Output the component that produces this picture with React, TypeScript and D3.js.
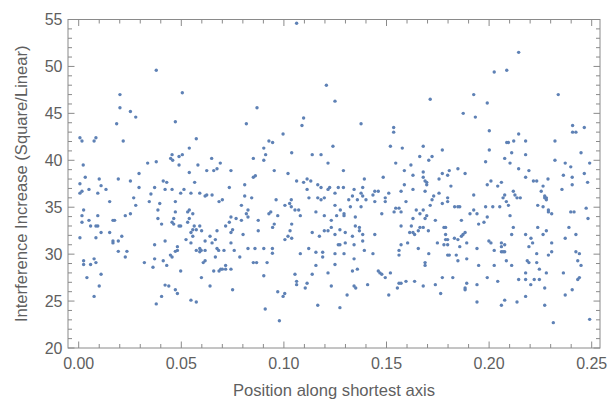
import React from "react";
import * as d3 from "d3";

// Data: [position along shortest axis, interference increase]
const points: [number, number][] = [
  [0.0378,49.6],[0.0201,47.0],[0.0201,45.6],[0.0252,45.2],[0.0278,44.6],[0.0185,43.9],[0.0471,44.1],[0.0006,42.4],[0.0016,42.05],[0.0084,42.4],[0.0075,42.05],[0.0217,42.05],[0.0455,40.6],[0.0489,40.4],[0.0448,40.2],[0.0458,40.0],[0.0336,39.7],[0.0378,39.85],[0.0022,39.5],[0.0489,39.5],[0.0294,38.6],[0.0032,38.2],[0.0100,38.0],[0.0193,38.0],
  [0.0252,37.8],[0.0412,37.8],[0.0429,37.65],[0.0006,37.5],[0.0109,37.3],[0.0294,37.1],[0.0370,37.1],[0.0016,36.7],[0.0006,36.5],[0.0050,36.9],[0.0093,36.5],[0.0133,36.9],[0.0421,36.9],[0.0455,36.9],[0.0352,36.4],[0.0268,36.0],[0.0151,35.6],[0.0344,35.6],[0.0471,35.6],[0.0395,35.4],[0.0278,35.2],[0.0024,34.7],[0.0386,34.7],[0.0471,34.5],[0.0252,34.3],[0.0016,34.1],[0.0093,34.1],[0.0227,34.1],[0.0386,33.8],[0.0463,33.8],[0.0050,33.6],[0.0167,33.6],[0.0175,33.6],[0.0016,33.4],[0.0455,33.4],[0.0463,33.2],[0.0404,33.2],[0.0489,33.0],[0.0058,33.0],[0.0084,33.0],[0.0093,33.0],[0.0109,32.3],[0.0151,32.3],[0.0210,31.9],[0.0006,31.75],[0.0084,31.75],[0.0167,31.4],[0.0167,31.2],[0.0193,31.4],[0.0370,31.0],[0.0421,31.4],[0.0481,30.8],[0.0481,30.4],[0.0471,30.3],[0.0193,30.3],[0.0235,30.3],[0.0447,29.9],[0.0455,29.7],[0.0227,29.7],[0.0075,29.5],[0.0370,29.5],[0.0024,29.3],[0.0412,29.3],[0.0320,29.1],[0.0084,29.1],[0.0024,28.9],[0.0058,28.9],[0.0429,28.8],[0.0362,28.6],[0.0109,27.85],[0.0040,27.5],[0.0421,26.7],[0.0439,26.6],[0.0100,26.6],[0.0471,26.2],[0.0481,25.8],[0.0404,25.5],[0.0075,25.5],[0.0378,24.7],
  [0.0505,47.2],[0.0869,45.6],[0.0817,43.9],[0.0996,42.8],[0.0573,42.3],[0.0539,41.3],[0.0902,41.3],[0.0927,42.05],[0.0945,41.9],[0.0505,40.6],[0.0911,40.6],[0.0648,40.2],[0.0851,40.2],[0.0902,40.0],[0.0581,39.5],[0.0690,39.7],[0.0674,39.1],[0.0658,38.9],[0.0624,38.9],[0.0742,38.9],[0.0953,38.9],[0.0539,38.7],[0.0861,38.35],[0.0851,38.2],
  [0.0565,37.65],[0.0809,37.4],[0.0513,36.9],[0.0497,36.5],[0.0547,36.5],[0.0590,36.5],[0.0734,37.1],[0.0624,36.3],[0.0616,36.2],[0.0650,36.3],[0.0809,36.2],[0.0843,36.0],[0.0700,35.8],[0.0684,35.6],[0.0962,35.8],[0.0793,35.2],[0.1005,35.2],[0.0825,34.7],[0.0539,34.7],[0.0531,34.5],[0.0556,34.3],[0.0817,34.3],[0.0936,34.5],[0.0927,34.3],[0.0970,34.1],[0.0742,33.95],[0.0767,33.8],[0.0825,33.95],[0.0539,33.8],[0.0875,33.6],[0.0793,33.6],[0.0734,33.4],[0.0531,33.4],[0.0953,33.2],[0.0497,33.0],[0.0563,33.0],[0.0590,33.0],[0.0716,33.0],[0.0945,32.85],[0.0556,32.6],[0.0573,32.6],[0.0750,32.6],[0.0599,32.5],[0.0674,32.5],[0.0875,32.5],[0.0547,32.3],[0.0742,32.3],[0.0556,31.9],[0.0640,31.9],[0.0801,32.1],[0.0523,31.55],[0.0666,31.55],[0.0616,31.4],[0.1005,31.55],[0.0547,31.2],[0.0650,31.2],[0.0742,31.2],[0.0590,30.6],[0.0674,30.6],[0.0682,30.4],[0.0825,30.6],[0.0859,30.6],[0.0902,30.6],[0.0944,30.6],[0.0573,30.4],[0.0590,30.25],[0.0597,30.4],[0.0616,30.4],[0.0708,30.4],[0.0758,30.4],[0.0944,30.1],[0.0666,29.7],[0.0785,29.7],[0.0616,29.3],[0.0607,29.1],[0.0851,29.1],[0.0867,29.1],[0.0918,29.1],[0.0716,28.8],[0.0692,28.4],[0.0700,28.4],[0.0716,28.4],[0.0742,28.4],[0.0658,28.2],[0.0684,28.2],[0.0497,28.2],[0.0902,27.7],[0.0598,27.5],[0.0640,26.6],[0.0750,26.2],[0.0970,26.0],[0.1004,25.8],[0.0996,25.5],[0.0547,25.1],[0.0573,24.9],[0.0909,24.15],[0.0978,22.9],
  [0.1062,54.6],[0.1207,48.0],[0.1249,46.3],[0.1096,44.5],[0.1088,43.7],[0.1376,43.9],[0.1535,43.5],[0.1535,43.0],[0.1239,41.5],[0.1519,41.5],[0.1038,40.8],[0.1138,40.6],[0.1181,40.6],[0.1215,39.7],[0.1290,38.9],[0.1020,38.6],[0.1484,38.2],[0.1113,38.0],[0.1392,38.0],
  [0.1062,37.8],[0.1096,37.65],[0.1131,37.8],[0.1165,37.4],[0.1181,37.1],[0.1215,36.9],[0.1223,37.1],[0.1265,37.1],[0.1290,37.1],[0.1384,37.1],[0.1113,36.9],[0.1342,36.9],[0.1443,36.7],[0.1460,36.7],[0.1249,36.5],[0.1376,36.5],[0.1511,36.5],[0.1434,36.3],[0.1334,36.2],[0.1384,36.2],[0.1122,36.0],[0.1165,36.0],[0.1181,35.8],[0.1197,36.0],[0.1316,35.8],[0.1358,35.8],[0.1400,35.8],[0.1494,36.0],[0.1036,35.8],[0.1443,35.6],[0.1494,35.6],[0.1028,35.4],[0.1249,35.2],[0.1324,35.05],[0.1376,35.05],[0.1036,35.05],[0.1054,34.7],[0.1072,34.7],[0.1156,34.5],[0.1275,34.7],[0.1293,34.3],[0.1293,34.1],[0.1477,34.3],[0.1080,34.1],[0.1197,34.1],[0.1257,34.1],[0.1348,33.95],[0.1231,33.6],[0.1038,33.2],[0.1348,33.0],[0.1368,32.85],[0.1231,32.85],[0.1197,32.5],[0.1215,32.5],[0.1368,32.5],[0.1273,32.6],[0.1030,32.5],[0.1138,32.3],[0.1299,32.3],[0.1384,32.1],[0.1443,32.1],[0.1249,32.1],[0.1020,31.9],[0.1173,31.9],[0.1334,31.9],[0.1038,31.7],[0.1384,31.4],[0.1299,31.2],[0.1265,31.0],[0.1273,31.0],[0.1342,31.0],[0.1121,30.6],[0.1392,30.4],[0.1156,30.2],[0.1189,30.2],[0.1080,30.05],[0.1249,30.05],[0.1293,30.05],[0.1434,30.05],[0.1189,29.7],[0.1342,29.5],[0.1249,28.9],[0.1156,28.8],[0.1358,28.4],[0.1334,28.2],[0.1460,28.2],[0.1468,28.0],[0.1477,27.85],[0.1519,28.0],[0.1215,28.0],[0.1054,27.85],[0.1138,27.85],[0.1494,27.5],[0.1062,27.1],[0.1062,26.75],[0.1113,26.9],[0.1408,26.75],[0.1231,26.6],[0.1342,26.6],[0.1350,26.4],[0.1104,26.4],[0.1308,25.65],[0.1511,25.65],[0.1165,24.55],[0.1273,24.3],
  [0.2025,49.4],[0.1925,47.0],[0.1713,46.5],[0.1991,46.1],[0.1874,45.0],[0.1933,44.6],[0.2001,43.15],[0.1577,41.3],[0.1679,41.5],[0.1772,41.1],[0.2001,41.1],[0.1662,40.4],[0.1722,40.4],[0.1706,40.0],[0.1983,39.85],[0.1545,39.7],[0.1619,39.5],[0.1848,39.1],[0.1587,38.9],[0.1806,38.9],[0.1679,38.75],[0.1772,38.6],[0.1883,38.6],[0.1629,38.4],[0.1798,38.4],[0.1679,38.2],[0.1756,38.0],
  [0.1688,37.8],[0.1696,37.65],[0.1696,37.4],[0.2009,37.8],[0.1991,37.4],[0.2042,37.25],[0.1587,37.4],[0.1814,37.25],[0.1571,36.7],[0.1629,36.9],[0.1688,36.7],[0.1756,36.5],[0.1925,36.3],[0.1730,36.2],[0.1722,35.8],[0.1798,36.0],[0.1798,35.6],[0.1595,35.6],[0.1772,35.4],[0.1713,35.2],[0.1832,35.05],[0.1848,35.05],[0.1857,35.05],[0.1983,35.05],[0.2018,35.05],[0.2052,35.05],[0.1545,34.9],[0.1561,34.9],[0.1537,34.5],[0.1571,34.5],[0.1645,34.7],[0.1679,34.7],[0.1925,34.7],[0.1663,34.3],[0.1696,34.1],[0.1907,34.3],[0.1941,34.3],[0.1629,33.8],[0.1688,33.8],[0.1738,33.6],[0.1865,33.6],[0.1991,33.95],[0.1975,33.4],[0.1949,33.2],[0.1571,33.0],[0.1621,33.0],[0.1663,32.85],[0.1679,32.85],[0.1780,32.85],[0.1788,32.85],[0.1704,32.5],[0.1655,32.5],[0.1613,32.3],[0.1629,32.3],[0.1637,32.1],[0.1883,32.3],[0.1873,32.1],[0.1865,31.9],[0.1788,32.1],[0.1831,31.7],[0.1788,31.55],[0.1798,31.55],[0.1848,31.55],[0.1999,31.4],[0.2009,31.2],[0.1603,31.2],[0.1748,31.2],[0.1891,31.2],[0.1571,31.0],[0.1780,31.0],[0.1798,31.0],[0.1857,30.8],[0.1655,30.6],[0.1941,30.6],[0.1561,30.4],[0.1561,29.9],[0.2025,30.4],[0.1706,30.05],[0.1798,29.9],[0.1806,29.9],[0.1840,29.9],[0.1891,29.5],[0.1848,29.3],[0.1688,29.1],[0.1688,28.8],[0.1949,28.8],[0.2025,28.8],[0.1772,27.5],[0.1823,27.5],[0.1991,27.5],[0.2042,27.1],[0.1595,27.1],[0.1637,27.1],[0.1561,26.9],[0.1571,26.9],[0.1891,26.9],[0.1941,26.75],[0.1738,26.75],[0.1679,26.6],[0.1883,26.4],[0.1883,26.2],[0.1553,26.4],[0.1764,25.8],[0.1941,24.9],
  [0.2144,51.5],[0.2086,49.6],[0.2337,47.0],[0.2407,43.7],[0.2464,43.5],[0.2407,43.0],[0.2423,43.0],[0.2144,42.8],[0.2086,41.9],[0.2094,41.9],[0.2120,42.05],[0.2178,42.05],[0.2321,42.05],[0.2110,40.8],[0.2178,40.6],[0.2448,40.8],[0.2076,40.2],[0.2321,40.0],[0.2102,39.7],[0.2371,39.7],[0.2490,39.7],[0.2398,39.3],[0.2144,39.1],[0.2194,38.9],[0.2464,38.6],[0.2362,38.4],[0.2178,38.2],[0.2405,38.2],[0.2287,38.0],
  [0.2216,37.8],[0.2232,37.8],[0.2060,37.65],[0.2405,37.4],[0.2480,37.65],[0.2263,37.25],[0.2355,36.9],[0.2118,36.7],[0.2254,36.7],[0.2076,36.3],[0.2126,36.3],[0.2271,36.2],[0.2279,36.0],[0.2271,36.0],[0.2068,36.0],[0.2136,36.0],[0.2152,36.0],[0.2279,35.8],[0.2084,35.6],[0.2094,35.2],[0.2237,35.2],[0.2263,35.05],[0.2473,34.9],[0.2289,34.7],[0.2289,34.5],[0.2305,34.3],[0.2398,34.5],[0.2414,34.5],[0.2102,34.1],[0.2482,33.8],[0.2118,32.85],[0.2237,32.85],[0.2389,32.85],[0.2279,32.5],[0.2110,32.1],[0.2178,32.1],[0.2263,32.1],[0.2423,32.1],[0.2204,31.7],[0.2371,31.7],[0.2060,31.2],[0.2076,31.0],[0.2060,30.8],[0.2212,31.2],[0.2305,31.2],[0.2194,30.8],[0.2060,30.25],[0.2068,30.25],[0.2076,30.25],[0.2232,30.05],[0.2289,29.9],[0.2305,30.25],[0.2423,30.25],[0.2440,30.05],[0.2084,29.3],[0.2186,29.3],[0.2194,29.1],[0.2232,29.1],[0.2432,29.3],[0.2110,28.8],[0.2448,28.8],[0.2245,28.4],[0.2178,28.0],[0.2279,28.0],[0.2362,28.0],[0.2144,27.3],[0.2178,27.3],[0.2220,27.3],[0.2245,27.3],[0.2432,27.3],[0.2440,27.5],[0.2203,26.75],[0.2271,26.4],[0.2405,26.2],[0.2371,25.65],[0.2178,25.5],[0.2076,25.1],[0.2136,24.9],[0.2060,24.55],[0.2271,24.55],[0.2313,22.7],[0.2490,23.05],
];

const xMajorTicks = [0, 0.05, 0.1, 0.15, 0.2, 0.25];
const yMajorTicks = [20, 25, 30, 35, 40, 45, 50, 55];
const xLabel = "Position along shortest axis";
const yLabel = "Interference Increase (Square/Linear)";

const W = 614;
const H = 408;
const frame = { left: 68, right: 600, top: 19.5, bottom: 348 };

export default function App() {
  const x = d3.scaleLinear().domain([0, 0.25]).range([78.7, 591.7]);
  const y = d3.scaleLinear().domain([20, 55]).range([frame.bottom, frame.top]);

  const xMinorTicks = d3.range(0, 26).map((i) => i / 100).filter((v) => !xMajorTicks.some((m) => Math.abs(m - v) < 1e-9));
  const yMinorTicks = d3.range(20, 56).filter((v) => v % 5 !== 0);

  const frameColor = "#8a8a8a";
  const textColor = "#5f5f5f";
  const font = "'Liberation Sans', Arial, sans-serif";
  const majorLen = 6.5;
  const minorLen = 4;

  return (
    <div style={{ position: "absolute", left: 0, top: 0 }}>
      <svg width={W} height={H} style={{ display: "block", background: "#fff" }}>
        <g stroke={frameColor} strokeWidth={1}>
          {xMajorTicks.map((v) => (
            <g key={"xm" + v}>
              <line x1={x(v)} x2={x(v)} y1={frame.bottom} y2={frame.bottom - majorLen} />
              <line x1={x(v)} x2={x(v)} y1={frame.top} y2={frame.top + majorLen} />
            </g>
          ))}
          {xMinorTicks.map((v) => (
            <g key={"xn" + v}>
              <line x1={x(v)} x2={x(v)} y1={frame.bottom} y2={frame.bottom - minorLen} />
              <line x1={x(v)} x2={x(v)} y1={frame.top} y2={frame.top + minorLen} />
            </g>
          ))}
          {yMajorTicks.map((v) => (
            <g key={"ym" + v}>
              <line x1={frame.left} x2={frame.left + majorLen} y1={y(v)} y2={y(v)} />
              <line x1={frame.right} x2={frame.right - majorLen} y1={y(v)} y2={y(v)} />
            </g>
          ))}
          {yMinorTicks.map((v) => (
            <g key={"yn" + v}>
              <line x1={frame.left} x2={frame.left + minorLen} y1={y(v)} y2={y(v)} />
              <line x1={frame.right} x2={frame.right - minorLen} y1={y(v)} y2={y(v)} />
            </g>
          ))}
        </g>
        <rect
          x={frame.left}
          y={frame.top}
          width={frame.right - frame.left}
          height={frame.bottom - frame.top}
          fill="none"
          stroke={frameColor}
          strokeWidth={1}
        />
        <g fill="#5E81B5">
          {points.map((p, i) => (
            <circle key={i} cx={x(p[0])} cy={y(p[1])} r={1.7} />
          ))}
        </g>
        <g fill={textColor} fontFamily={font} fontSize={16}>
          {xMajorTicks.map((v) => (
            <text key={"xl" + v} x={x(v)} y={368.5} textAnchor="middle">
              {d3.format(".2f")(v)}
            </text>
          ))}
          {yMajorTicks.map((v) => (
            <text key={"yl" + v} x={62.5} y={y(v)} dy="0.35em" textAnchor="end">
              {v}
            </text>
          ))}
        </g>
        <text x={(frame.left + frame.right) / 2} y={396} textAnchor="middle" fill={textColor} fontFamily={font} fontSize={16.6}>
          {xLabel}
        </text>
        <text
          transform={`translate(27, ${(frame.top + frame.bottom) / 2}) rotate(-90)`}
          textAnchor="middle"
          fill={textColor}
          fontFamily={font}
          fontSize={16.6}
        >
          {yLabel}
        </text>
      </svg>
    </div>
  );
}
